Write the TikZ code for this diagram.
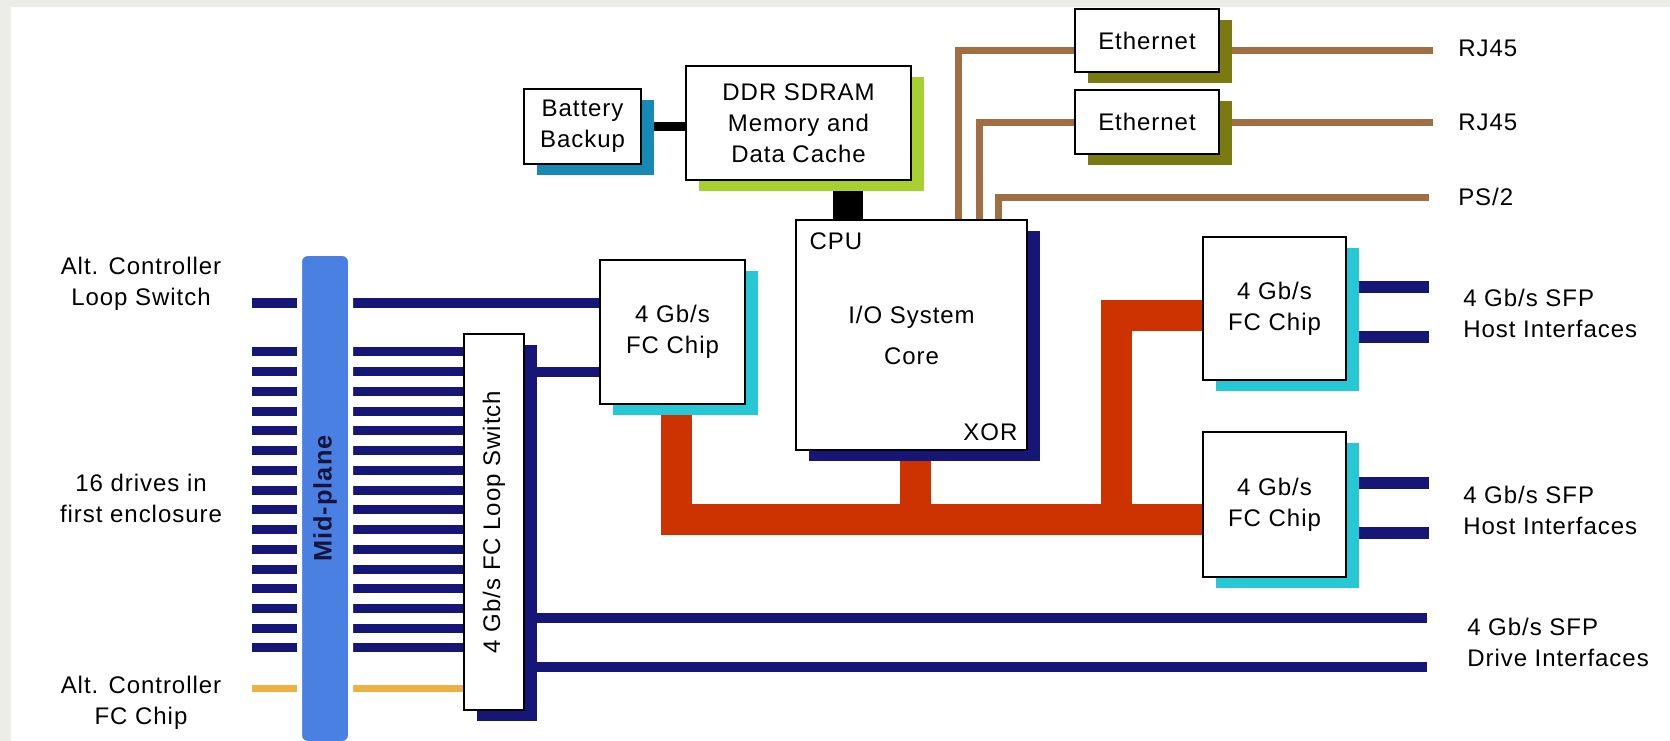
\documentclass[tikz,border=0pt]{standalone}
\usepackage{fontspec}
\usepackage{graphicx}
\setmainfont{Liberation Sans}[LetterSpace=4]
\usetikzlibrary{shadows}
\pgfdeclarelayer{bottom}
\pgfdeclarelayer{background}
\pgfsetlayers{bottom,background,main}
\definecolor{framegray}{RGB}{236,236,232}
\definecolor{navyc}{RGB}{22,22,120}
\definecolor{midblue}{RGB}{74,128,226}
\definecolor{orangec}{RGB}{238,176,64}
\definecolor{cyanc}{RGB}{38,200,214}
\definecolor{battc}{RGB}{22,138,180}
\definecolor{ddrc}{RGB}{168,208,48}
\definecolor{olivec}{RGB}{122,122,16}
\definecolor{brownc}{RGB}{160,110,64}
\definecolor{redc}{RGB}{204,51,0}
\definecolor{midtext}{RGB}{20,20,60}
\newcommand\labfont{\fontsize{18}{23.25}\selectfont}
\begin{document}
\begin{tikzpicture}[x=0.75pt,y=-0.75pt,
  bx/.style={draw=black,line width=1pt,fill=white,inner sep=0pt,align=center,font=\labfont},
  shd/.style={drop shadow={shadow xshift=9.75pt,shadow yshift=-8.25pt,opacity=1,fill=#1}},
  lbl/.style={inner sep=0pt,font=\labfont},
  brownline/.style={draw=brownc,line width=5.25pt},
  driveline/.style={draw=navyc,line width=6.75pt},
  busline/.style={draw=navyc,line width=8pt},
  hostline/.style={draw=navyc,line width=9pt},
  orangeline/.style={draw=orangec,line width=5.25pt},
  blackline/.style={draw=black,line width=#1},
  redline/.style={draw=redc,line width=23.25pt},
  midbar/.style={fill=midblue,draw=white,line width=3.75pt,rounded corners=6pt,inner sep=0pt}]
\begin{pgfonlayer}{bottom}
\fill[framegray] (0,0) rectangle (1670,741);
\fill[white] (11,7) rectangle (1670,741);
\end{pgfonlayer}
\useasboundingbox (0,0) rectangle (1670,741);

% free ends
\coordinate (rj1) at (1433,51);
\coordinate (rj2) at (1433,123);
\coordinate (ps2) at (1429,198);
\coordinate (h1a) at (1429,287);
\coordinate (h1b) at (1429,337);
\coordinate (h2a) at (1429,483);
\coordinate (h2b) at (1429,533);
\coordinate (d1) at (1427,618);
\coordinate (d2) at (1427,667);
\coordinate (alsw) at (252,303);
\coordinate (altfc) at (252,688);
\coordinate (redbus) at (1116,519.5);

% boxes
\node[bx,shd=battc,minimum width=87.75pt,minimum height=56.25pt] (batt) at (582.5,126.5) {Battery\\Backup};
\node[bx,shd=ddrc,minimum width=168.75pt,minimum height=85.5pt] (ddr) at (798.5,123) {DDR SDRAM\\Memory and\\Data Cache};
\node[bx,shd=navyc,minimum width=173.25pt,minimum height=172.5pt] (cpu) at (911.5,335) {I/O System\\[7.5pt]Core};
\node[lbl,anchor=west] (cpulbl) at ([xshift=10.5pt,yshift=-16.5pt]cpu.north west) {CPU};
\node[lbl,anchor=east] (xorlbl) at ([xshift=-7.5pt,yshift=13.5pt]cpu.south east) {XOR};
\node[bx,shd=cyanc,minimum width=108.75pt,minimum height=108pt] (fc1) at (672.5,332) {4 Gb/s\\FC Chip};
\node[bx,shd=cyanc,minimum width=107.25pt,minimum height=107.25pt] (fc2) at (1274.5,308.5) {4 Gb/s\\FC Chip};
\node[bx,shd=cyanc,minimum width=107.25pt,minimum height=108.75pt] (fc3) at (1274.5,504.5) {4 Gb/s\\FC Chip};
\node[bx,shd=olivec,minimum width=108pt,minimum height=47.25pt] (eth1) at (1147,40.5) {Ethernet};
\node[bx,shd=olivec,minimum width=108pt,minimum height=48pt] (eth2) at (1147,122) {Ethernet};
\node[bx,shd=navyc,minimum width=45pt,minimum height=282pt] (loopsw) at (494,522) {\rotatebox{90}{4 Gb/s FC Loop Switch}};

% outside labels
\node[lbl,align=center] (lab1) at (141,284) {Alt. Controller\\Loop Switch};
\node[lbl,align=center] (lab2) at (141,498.5) {16 drives in\\first enclosure};
\node[lbl,align=center] (lab3) at (141,703) {Alt. Controller\\FC Chip};
\node[lbl,anchor=west] (trj1) at (1458,48) {RJ45};
\node[lbl,anchor=west] (trj2) at (1458,122) {RJ45};
\node[lbl,anchor=west] (tps2) at (1458,197) {PS/2};
\node[lbl,anchor=west,align=left] (thost1) at (1463,313.5) {4 Gb/s SFP\\Host Interfaces};
\node[lbl,anchor=west,align=left] (thost2) at (1463,510) {4 Gb/s SFP\\Host Interfaces};
\node[lbl,anchor=west,align=left] (tdrive) at (1467,642.5) {4 Gb/s SFP\\Drive Interfaces};

% connectors behind boxes
\begin{pgfonlayer}{background}
% brown
\draw[brownline] ([xshift=34.875pt]cpu.north) |- (eth1.west |- rj1);
\draw[brownline] ([xshift=50.625pt]cpu.north) |- (eth2.west |- rj2);
\draw[brownline] ([xshift=64.875pt]cpu.north) |- (ps2);
\draw[brownline] (eth1.east |- rj1) -- (rj1);
\draw[brownline] (eth2.east |- rj2) -- (rj2);
% black
\draw[blackline=6.75pt] (batt.east) -- (ddr.west |- batt.east);
\draw[blackline=22.5pt] ([xshift=-47.625pt]cpu.north) -- ([xshift=-47.625pt]cpu.north |- ddr.south);
% red
\draw[redline] ([xshift=2.625pt]fc1.south) |- (fc3.west |- redbus);
\draw[redline] ([xshift=2.625pt]cpu.south) -- ([xshift=2.625pt]cpu.south |- redbus);
\draw[redline] ([yshift=-5.625pt]fc2.west) -| (redbus);
% navy
\path ([yshift=-30pt]fc1.west) coordinate (fc1in);
\draw[busline] (alsw) -- (fc1.west |- alsw);
\draw[busline] (loopsw.east |- fc1in) -- (fc1in);
\draw[busline] (loopsw.east |- d1) -- (d1);
\draw[busline] (loopsw.east |- d2) -- (d2);
\draw[hostline] (fc2.east |- h1a) -- (h1a);
\draw[hostline] (fc2.east |- h1b) -- (h1b);
\draw[hostline] (fc3.east |- h2a) -- (h2a);
\draw[hostline] (fc3.east |- h2b) -- (h2b);
\foreach \i in {0,...,15} {
  \coordinate (dr\i) at (252,{352+\i*19.73});
  \draw[driveline] (dr\i) -- (loopsw.west |- dr\i);
}
\draw[orangeline] (altfc) -- (loopsw.west |- altfc);
\end{pgfonlayer}

% mid-plane
\node[midbar,minimum width=38.25pt,minimum height=367.5pt] (mid) at (325,498.5)
  {\rotatebox{90}{\color{midtext}\fontsize{19}{22}\bfseries Mid-plane}};
\end{tikzpicture}
\end{document}
